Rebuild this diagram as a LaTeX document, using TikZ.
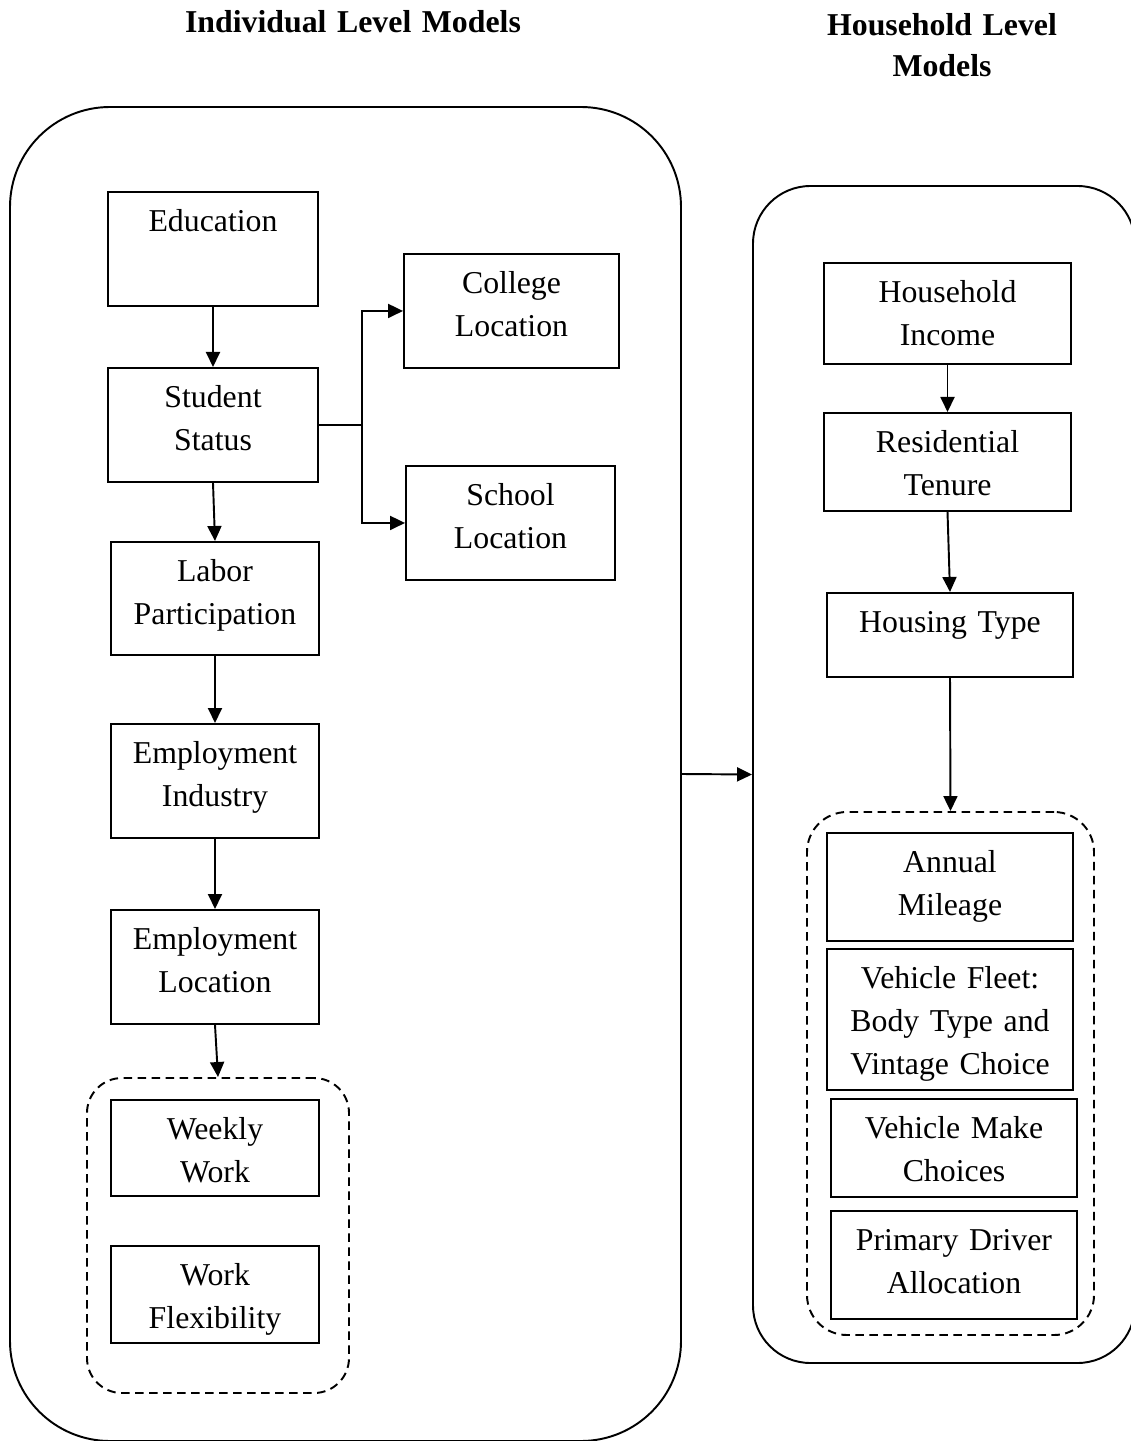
\documentclass[tikz,border=0pt]{standalone}
\usepackage{fontspec}
\setmainfont{Liberation Serif}
\usetikzlibrary{arrows.meta}

\begin{document}
\begin{tikzpicture}[line width=1.1pt,>={Triangle[length=0.3cm,width=0.28cm]}]
      \tikzstyle{model}=[draw, inner xsep=0pt, inner ysep=0pt, align=center, text height=0.8cm, anchor=north, font=\fontsize{18.1pt}{24.2pt}\selectfont]
      \tikzstyle{level}=[draw, rounded corners=2cm]
      \tikzstyle{group}=[draw, dash pattern=on 0.17cm off 0.11cm, rounded corners=0.7cm]
      \tikzstyle{heading}=[font=\bfseries\fontsize{18.1pt}{23.2pt}\selectfont, align=center, anchor=base, text width=9cm]
      \useasboundingbox (0,0) rectangle (22.6,-28.82);

      \node[heading] (T-ind) at (7.06,-0.66) {Individual Level Models};
      \node[heading] (T-hh) at (18.84,-0.72) {Household Level\\Models};

      \node[level, minimum width=13.42cm, minimum height=26.68cm] (L-ind) at (6.91,-15.48) {};
      \node[level, rounded corners=1.15cm, minimum width=7.64cm, minimum height=23.54cm] (L-hh) at (18.88,-15.49) {};
      \node[group, minimum width=5.24cm, minimum height=6.3cm] (G-work) at (4.36,-24.71) {};
      \node[group, rounded corners=0.8cm, minimum width=5.74cm, minimum height=10.46cm] (G-veh) at (19.01,-21.47) {};

      \foreach \name/\txt/\x/\y/\w/\dep in {edu/Education/4.26/-3.82/4.2/1.48, stu/Student\\Status/4.26/-7.34/4.2/1.48,
          lab/Labor\\Participation/4.3/-10.82/4.16/1.46, ind/Employment\\Industry/4.3/-14.46/4.16/1.48,
          loc/Employment\\Location/4.3/-18.18/4.16/1.48, wkw/Weekly\\Work/4.3/-21.98/4.16/1.12,
          flx/Work\\Flexibility/4.3/-24.9/4.16/1.14, col/College\\Location/10.23/-5.06/4.3/1.48,
          sch/School\\Location/10.21/-9.3/4.18/1.48,
          inc/Household\\Income/18.95/-5.24/4.94/1.22, ten/Residential\\Tenure/18.95/-8.24/4.94/1.16,
          hou/Housing Type/19.0/-11.84/4.92/0.88, mil/Annual\\Mileage/19.0/-16.64/4.92/1.36,
          flt/Vehicle Fleet:\\Body Type and\\Vintage Choice/19.0/-18.96/4.92/2.02,
          mak/Vehicle Make\\Choices/19.08/-21.96/4.92/1.16, drv/Primary Driver\\Allocation/19.08/-24.2/4.92/1.36}
        \node[model, text width=\w cm, text depth=\dep cm] (M-\name) at (\x,\y) {\txt};

      \foreach \from/\to in {edu/stu, stu/lab, lab/ind, ind/loc, inc/ten, ten/hou}
        \draw[->] (M-\from.south) -- (M-\to.north);
      \draw[->] (M-loc.south) -- (G-work.north);
      \draw[->] (M-hou.south) -- (G-veh.north);

      \draw (M-stu.east) -- ++(0.86,0) coordinate (fork);
      \draw[->] (fork) |- (M-col.west);
      \draw[->] (fork) |- (M-sch.west);

      \draw[->] (L-ind.east) -- (L-hh.west);
    \end{tikzpicture}
\end{document}
